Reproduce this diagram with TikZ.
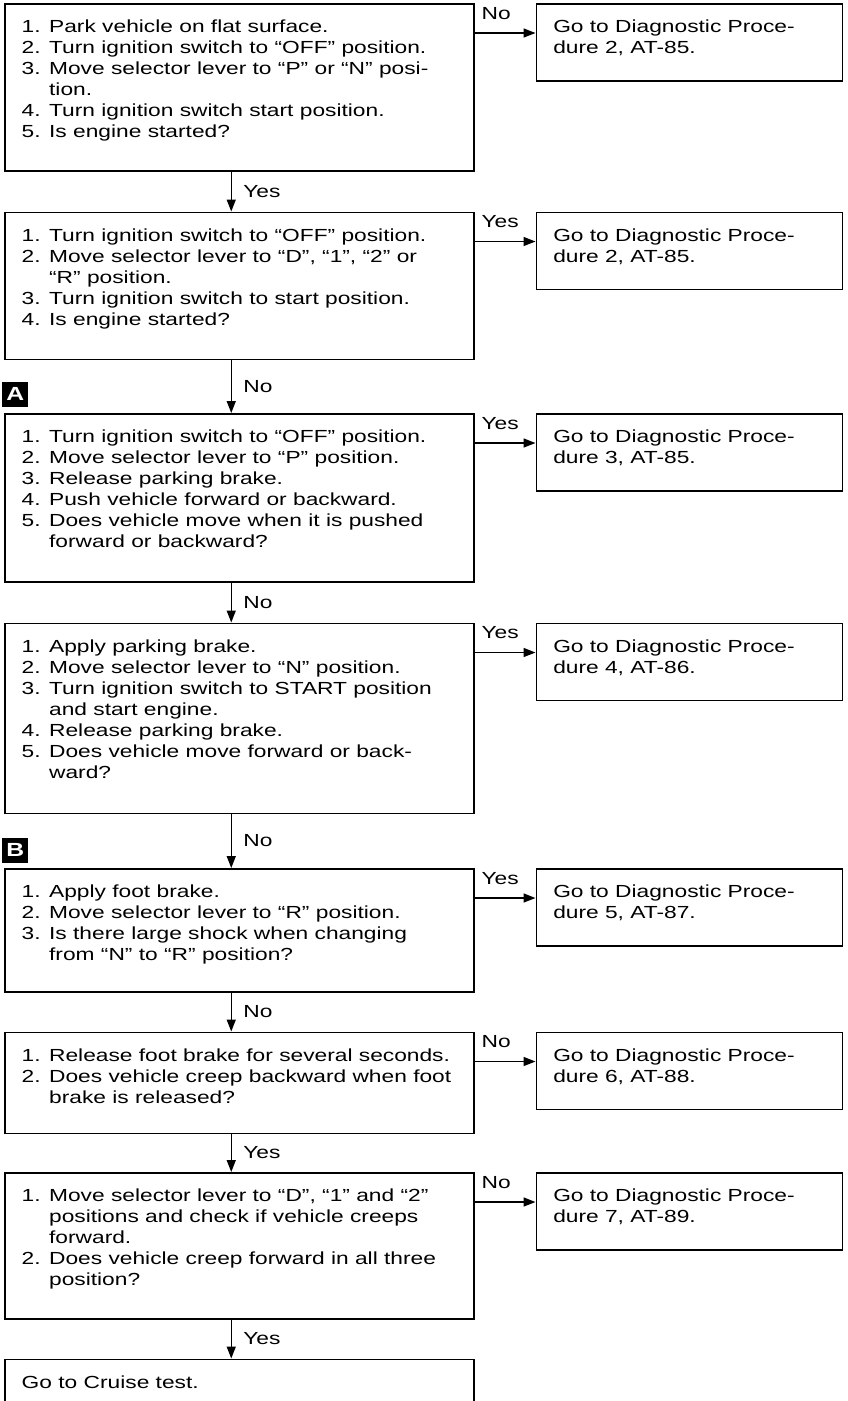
\documentclass[tikz,border=0pt]{standalone}
\usepackage{fontspec}
\setmainfont{Liberation Sans}[FakeStretch=1.3]
\usetikzlibrary{positioning,arrows.meta}

\newcommand{\boxtext}[3]{\parbox[c][#2][t]{#1}{\raggedright\leftskip=17pt\rule{0pt}{29pt}#3}}

\begin{document}
\begin{tikzpicture}[x=1pt,y=1pt]
    \tikzstyle{every node}=[font=\fontsize{17.5pt}{21pt}\selectfont]
    \tikzstyle{qbox}=[draw,line width=1.5pt,inner sep=0pt,anchor=north west]
    \tikzstyle{gobox}=[qbox]
    \tikzstyle{flow}=[line width=1.5pt,-{Triangle[length=12pt,width=9pt]}]
    \tikzstyle{tag}=[fill=black,text=white,inner sep=0pt,minimum width=26pt,minimum height=25pt,
      font=\bfseries\fontsize{19pt}{19pt}\selectfont]
    \clip (0,0) rectangle (848,-1401);
    \node[qbox] (q1) at (4,-3) {\boxtext{469pt}{167pt}{1. Park vehicle on flat surface.\\
      2. Turn ignition switch to “OFF” position.\\
      3. Move selector lever to “P” or “N” posi-\\
      \phantom{3. }tion.\\
      4. Turn ignition switch start position.\\
      5. Is engine started?}};
    \node[qbox, below=40pt of q1.south west, anchor=north west] (q2) {\boxtext{469pt}{147pt}{1. Turn ignition switch to “OFF” position.\\
      2. Move selector lever to “D”, “1”, “2” or\\
      \phantom{2. }“R” position.\\
      3. Turn ignition switch to start position.\\
      4. Is engine started?}};
    \node[qbox, below=53pt of q2.south west, anchor=north west] (q3) {\boxtext{469pt}{168pt}{1. Turn ignition switch to “OFF” position.\\
      2. Move selector lever to “P” position.\\
      3. Release parking brake.\\
      4. Push vehicle forward or backward.\\
      5. Does vehicle move when it is pushed\\
      \phantom{5. }forward or backward?}};
    \node[qbox, below=40pt of q3.south west, anchor=north west] (q4) {\boxtext{469pt}{190pt}{1. Apply parking brake.\\
      2. Move selector lever to “N” position.\\
      3. Turn ignition switch to START position\\
      \phantom{3. }and start engine.\\
      4. Release parking brake.\\
      5. Does vehicle move forward or back-\\
      \phantom{5. }ward?}};
    \node[qbox, below=54pt of q4.south west, anchor=north west] (q5) {\boxtext{469pt}{123pt}{1. Apply foot brake.\\
      2. Move selector lever to “R” position.\\
      3. Is there large shock when changing\\
      \phantom{3. }from “N” to “R” position?}};
    \node[qbox, below=39pt of q5.south west, anchor=north west] (q6) {\boxtext{469pt}{101pt}{1. Release foot brake for several seconds.\\
      2. Does vehicle creep backward when foot\\
      \phantom{2. }brake is released?}};
    \node[qbox, below=38pt of q6.south west, anchor=north west] (q7) {\boxtext{469pt}{146pt}{1. Move selector lever to “D”, “1” and “2”\\
      \phantom{1. }positions and check if vehicle creeps\\
      \phantom{1. }forward.\\
      2. Does vehicle creep forward in all three\\
      \phantom{2. }position?}};
    \node[qbox, below=39pt of q7.south west, anchor=north west] (q8) {\boxtext{469pt}{80pt}{Go to Cruise test.}};

    \node[gobox, right=61pt of q1.north east, anchor=north west] (g1) {\boxtext{306pt}{77pt}{Go to Diagnostic Proce-\\ dure 2, AT-85.}};
    \node[gobox, right=61pt of q2.north east, anchor=north west] (g2) {\boxtext{306pt}{77pt}{Go to Diagnostic Proce-\\ dure 2, AT-85.}};
    \node[gobox, right=61pt of q3.north east, anchor=north west] (g3) {\boxtext{306pt}{77pt}{Go to Diagnostic Proce-\\ dure 3, AT-85.}};
    \node[gobox, right=61pt of q4.north east, anchor=north west] (g4) {\boxtext{306pt}{77pt}{Go to Diagnostic Proce-\\ dure 4, AT-86.}};
    \node[gobox, right=61pt of q5.north east, anchor=north west] (g5) {\boxtext{306pt}{77pt}{Go to Diagnostic Proce-\\ dure 5, AT-87.}};
    \node[gobox, right=61pt of q6.north east, anchor=north west] (g6) {\boxtext{306pt}{77pt}{Go to Diagnostic Proce-\\ dure 6, AT-88.}};
    \node[gobox, right=61pt of q7.north east, anchor=north west] (g7) {\boxtext{306pt}{77pt}{Go to Diagnostic Proce-\\ dure 7, AT-89.}};

    \node[tag, above=6pt of q3.north west, anchor=south west, xshift=-2pt] (mA) {A};
    \node[tag, above=5pt of q5.north west, anchor=south west, xshift=-2pt] (mB) {B};

    \draw[flow] ([xshift=-8pt]q1.south) -- ([xshift=-8pt]q2.north) node[midway,anchor=west,xshift=8pt] (d1) {Yes};
    \draw[flow] ([xshift=-8pt]q2.south) -- ([xshift=-8pt]q3.north) node[midway,anchor=west,xshift=8pt] (d2) {No};
    \draw[flow] ([xshift=-8pt]q3.south) -- ([xshift=-8pt]q4.north) node[midway,anchor=west,xshift=8pt] (d3) {No};
    \draw[flow] ([xshift=-8pt]q4.south) -- ([xshift=-8pt]q5.north) node[midway,anchor=west,xshift=8pt] (d4) {No};
    \draw[flow] ([xshift=-8pt]q5.south) -- ([xshift=-8pt]q6.north) node[midway,anchor=west,xshift=8pt] (d5) {No};
    \draw[flow] ([xshift=-8pt]q6.south) -- ([xshift=-8pt]q7.north) node[midway,anchor=west,xshift=8pt] (d6) {Yes};
    \draw[flow] ([xshift=-8pt]q7.south) -- ([xshift=-8pt]q8.north) node[midway,anchor=west,xshift=8pt] (d7) {Yes};

    \draw[flow] ([yshift=-30pt]q1.north east) -- ([yshift=-30pt]g1.north west) node[pos=0,anchor=base west,xshift=3pt,yshift=14pt] (r1) {No};
    \draw[flow] ([yshift=-30pt]q2.north east) -- ([yshift=-30pt]g2.north west) node[pos=0,anchor=base west,xshift=3pt,yshift=14pt] (r2) {Yes};
    \draw[flow] ([yshift=-30pt]q3.north east) -- ([yshift=-30pt]g3.north west) node[pos=0,anchor=base west,xshift=3pt,yshift=14pt] (r3) {Yes};
    \draw[flow] ([yshift=-30pt]q4.north east) -- ([yshift=-30pt]g4.north west) node[pos=0,anchor=base west,xshift=3pt,yshift=14pt] (r4) {Yes};
    \draw[flow] ([yshift=-30pt]q5.north east) -- ([yshift=-30pt]g5.north west) node[pos=0,anchor=base west,xshift=3pt,yshift=14pt] (r5) {Yes};
    \draw[flow] ([yshift=-30pt]q6.north east) -- ([yshift=-30pt]g6.north west) node[pos=0,anchor=base west,xshift=3pt,yshift=14pt] (r6) {No};
    \draw[flow] ([yshift=-30pt]q7.north east) -- ([yshift=-30pt]g7.north west) node[pos=0,anchor=base west,xshift=3pt,yshift=14pt] (r7) {No};
\end{tikzpicture}
\end{document}
